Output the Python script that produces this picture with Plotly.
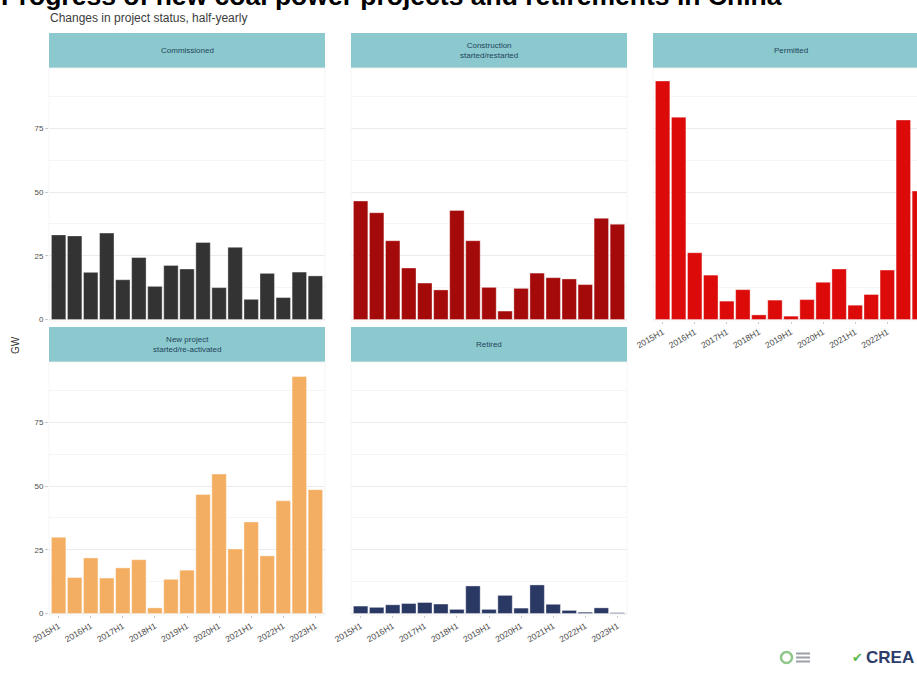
import plotly.graph_objects as go

W, H = 917, 673

periods = ["2015H1", "2015H2", "2016H1", "2016H2", "2017H1", "2017H2", "2018H1", "2018H2",
           "2019H1", "2019H2", "2020H1", "2020H2", "2021H1", "2021H2", "2022H1", "2022H2", "2023H1"]
tick_labels = periods[::2]

commissioned = [33.2, 32.8, 18.5, 33.9, 15.6, 24.3, 13.0, 21.2, 19.8, 30.2, 12.5, 28.3, 7.9, 18.1, 8.6, 18.6, 17.1]
construction = [46.5, 41.9, 30.9, 20.2, 14.3, 11.6, 42.8, 30.9, 12.6, 3.3, 12.2, 18.2, 16.4, 15.9, 13.7, 39.7, 37.4]
permitted = [93.6, 79.4, 26.2, 17.4, 7.2, 11.7, 1.8, 7.6, 1.3, 7.8, 14.6, 19.8, 5.6, 9.8, 19.4, 78.3, 50.4]
new_project = [29.9, 14.1, 21.8, 13.9, 17.9, 21.1, 2.2, 13.4, 17.0, 46.7, 54.7, 25.3, 35.9, 22.6, 44.2, 93.0, 48.6]
retired = [2.9, 2.4, 3.4, 3.9, 4.3, 3.7, 1.6, 10.8, 1.6, 7.1, 2.1, 11.2, 3.6, 1.2, 0.5, 2.2, 0.3]

panel_titles = ["Commissioned", "Construction<br>started/restarted", "Permitted",
                "New project<br>started/re-activated", "Retired"]
panel_series = [commissioned, construction, permitted, new_project, retired]
panel_colors = ["#333333", "#a50a0a", "#dd0a0a", "#f4ae62", "#2a3864"]

# pixel layout (left, right, top, bottom) of each panel
col_px = [(49, 325), (351, 627), (653, 929)]
row_px = [(68, 321), (362, 615)]
strip_h = 35
panel_pos = [(0, 0), (0, 1), (0, 2), (1, 0), (1, 1)]


def fx(px):
    return px / W


def fy(py):
    return 1 - py / H


fig = go.Figure()
shapes = []
annotations = []

units_per_px = 17.2 / (col_px[0][1] - col_px[0][0])

for i, (vals, color, title) in enumerate(zip(panel_series, panel_colors, panel_titles)):
    r, c = panel_pos[i]
    n = i + 1
    xa = "x" if n == 1 else f"x{n}"
    ya = "y" if n == 1 else f"y{n}"
    fig.add_trace(go.Bar(x=periods, y=vals, marker=dict(color=color, line=dict(color="rgba(255,255,255,0.6)", width=0.6)),
                         xaxis=xa, yaxis=ya, showlegend=False, hoverinfo="x+y"))
    l, rr = col_px[c]
    t, b = row_px[r]
    vis_r = min(rr, W)
    xrange_end = -0.6 + (vis_r - l) * units_per_px
    show_x = (r == 1) or (i == 2)
    xkey = "xaxis" if n == 1 else f"xaxis{n}"
    ykey = "yaxis" if n == 1 else f"yaxis{n}"
    fig.layout[xkey] = dict(
        domain=[fx(l), fx(vis_r)], anchor=ya, type="category",
        categoryorder="array", categoryarray=periods,
        range=[-0.6, xrange_end], showgrid=False, zeroline=False,
        showticklabels=show_x, tickmode="array", tickvals=tick_labels, ticktext=tick_labels,
        tickangle=-30, tickfont=dict(size=8.5, color="#4d4d4d", family="Liberation Sans"),
        ticks="outside" if show_x else "", ticklen=2, tickcolor="#cccccc",
        showline=False, fixedrange=True, automargin=False,
    )
    fig.layout[ykey] = dict(
        domain=[fy(b), fy(t)], anchor=xa, range=[-0.6, 98.7],
        tickmode="array", tickvals=[0, 25, 50, 75],
        showticklabels=(c == 0), ticks="outside" if c == 0 else "", ticklen=3, tickcolor="#cccccc",
        tickfont=dict(size=8, color="#4d4d4d", family="Liberation Sans"),
        showgrid=True, gridcolor="#ebebeb", gridwidth=0.8, zeroline=False,
        minor=dict(tickvals=[12.5, 37.5, 62.5, 87.5], showgrid=True, gridcolor="#f5f5f5", gridwidth=0.6),
        showline=False, fixedrange=True, automargin=False,
    )
    # strip header
    shapes.append(dict(type="rect", xref="paper", yref="paper",
                       x0=fx(l), x1=fx(rr), y0=fy(t), y1=fy(t - strip_h),
                       fillcolor="#8cc9cf", line=dict(width=0), layer="below"))
    annotations.append(dict(xref="paper", yref="paper", x=fx((l + rr) / 2), y=fy(t - strip_h / 2),
                            text=title, showarrow=False, xanchor="center", yanchor="middle",
                            font=dict(size=8, color="#22455a", family="Liberation Sans")))
    # faint panel border
    shapes.append(dict(type="rect", xref="paper", yref="paper",
                       x0=fx(l), x1=fx(rr), y0=fy(b), y1=fy(t),
                       line=dict(color="#f3f3f3", width=0.8), layer="below"))

# titles
annotations.append(dict(xref="paper", yref="paper", x=fx(-1), y=fy(13), xanchor="left", yanchor="bottom",
                        text="<b>Progress of new coal power projects and retirements in China</b>",
                        showarrow=False, font=dict(size=26.5, color="#000000", family="Liberation Sans")))
annotations.append(dict(xref="paper", yref="paper", x=fx(48), y=fy(18), xanchor="left", yanchor="middle",
                        text="Changes in project status, half-yearly",
                        showarrow=False, font=dict(size=12, color="#3c3c3c", family="Liberation Sans")))
annotations.append(dict(xref="paper", yref="paper", x=fx(16), y=fy(345), xanchor="center", yanchor="middle",
                        text="GW", textangle=-90,
                        showarrow=False, font=dict(size=10, color="#333333", family="Liberation Sans")))

# logos (bottom right)
shapes.append(dict(type="circle", xref="paper", yref="paper", x0=fx(781), x1=fx(792), y0=fy(663), y1=fy(652),
                   line=dict(color="#8fc78a", width=2.5)))
for k, yy in enumerate([653.5, 657.5, 661.5]):
    shapes.append(dict(type="line", xref="paper", yref="paper", x0=fx(796), x1=fx(810), y0=fy(yy), y1=fy(yy),
                       line=dict(color="#9a9fa8", width=2)))
annotations.append(dict(xref="paper", yref="paper", x=fx(850), y=fy(657), xanchor="left", yanchor="middle",
                        text="<b>✔</b>", showarrow=False, font=dict(size=13, color="#5cb84a", family="DejaVu Sans")))
annotations.append(dict(xref="paper", yref="paper", x=fx(864), y=fy(657), xanchor="left", yanchor="middle",
                        text="<b>CREA</b>", showarrow=False, font=dict(size=17, color="#2d3d6b", family="Liberation Sans")))

fig.update_layout(
    width=W, height=H, margin=dict(l=0, r=0, t=0, b=0, autoexpand=False),
    paper_bgcolor="white", plot_bgcolor="white",
    bargap=0.1, shapes=shapes, annotations=annotations,
    font=dict(family="Liberation Sans"),
)

fig.write_html("out.html", config={"displayModeBar": False},
               post_script="document.body.style.margin='0px';")
